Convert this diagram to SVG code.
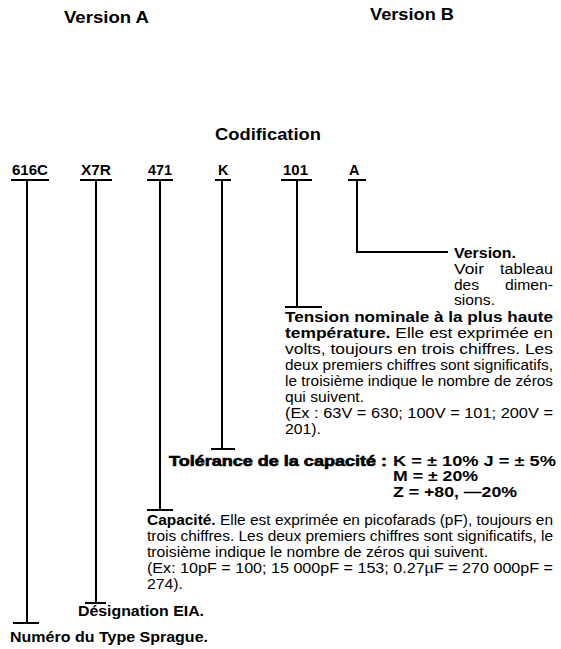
<svg xmlns="http://www.w3.org/2000/svg" width="561" height="649" viewBox="0 0 561 649">
<style>
text{font-family:"Liberation Sans",Arial,sans-serif;fill:#000}
.h{font-size:17px;font-weight:bold}
.c{font-size:14.5px;font-weight:bold}
.t{font-size:14px}
.b{font-weight:bold}
.lb{font-size:15px;font-weight:bold}
.tol{font-size:14px;font-weight:bold;stroke:#000;stroke-width:0.6}
.k{font-size:14px;font-weight:bold}
line,polyline{stroke:#000;stroke-width:2;fill:none}
</style>
<rect width="561" height="649" fill="#fff"/>
<g id="headers">
<text class="h" x="64" y="23" textLength="85" lengthAdjust="spacingAndGlyphs">Version A</text>
<text class="h" x="370" y="20" textLength="84" lengthAdjust="spacingAndGlyphs">Version B</text>
<text class="h" x="215" y="140" textLength="106" lengthAdjust="spacingAndGlyphs">Codification</text>
</g>
<g id="code-616C"><text class="c" x="12" y="175" textLength="36" lengthAdjust="spacingAndGlyphs">616C</text><line x1="11" y1="180" x2="49" y2="180"/></g>
<g id="code-X7R"><text class="c" x="81" y="175" textLength="30" lengthAdjust="spacingAndGlyphs">X7R</text><line x1="80" y1="180" x2="112" y2="180"/></g>
<g id="code-471"><text class="c" x="148" y="175" textLength="24" lengthAdjust="spacingAndGlyphs">471</text><line x1="147" y1="180" x2="173" y2="180"/></g>
<g id="code-K"><text class="c" x="218" y="175">K</text><line x1="215" y1="180" x2="231" y2="180"/></g>
<g id="code-101"><text class="c" x="283" y="175" textLength="25" lengthAdjust="spacingAndGlyphs">101</text><line x1="281" y1="180" x2="312" y2="180"/></g>
<g id="code-A"><text class="c" x="349" y="175">A</text><line x1="348" y1="180" x2="366" y2="180"/></g>
<g id="connectors">
<line x1="27" y1="180" x2="27" y2="623"/><line x1="13" y1="623" x2="39" y2="623"/>
<line x1="96" y1="180" x2="96" y2="603"/><line x1="85" y1="603" x2="106" y2="603"/>
<line x1="160" y1="180" x2="160" y2="510"/><line x1="147" y1="510" x2="173" y2="510"/>
<line x1="222" y1="180" x2="222" y2="449"/><line x1="211" y1="449" x2="235" y2="449"/>
<line x1="297" y1="180" x2="297" y2="307"/><line x1="285" y1="307" x2="322" y2="307"/>
<polyline points="357,180 357,252 448,252"/>
</g>
<g id="desc-version">
<text class="t b" x="454" y="258" textLength="62" lengthAdjust="spacingAndGlyphs">Version.</text>
<text class="t" x="454" y="274" textLength="30" lengthAdjust="spacingAndGlyphs">Voir</text>
<text class="t" x="500" y="274" textLength="53" lengthAdjust="spacingAndGlyphs">tableau</text>
<text class="t" x="454" y="290" textLength="25" lengthAdjust="spacingAndGlyphs">des</text>
<text class="t" x="505" y="290" textLength="48" lengthAdjust="spacingAndGlyphs">dimen-</text>
<text class="t" x="454" y="305" textLength="41" lengthAdjust="spacingAndGlyphs">sions.</text>
</g>
<g id="desc-tension">
<text class="t b" x="285" y="322" textLength="268" lengthAdjust="spacingAndGlyphs">Tension nominale à la plus haute</text>
<text class="t" x="285" y="338" textLength="268" lengthAdjust="spacingAndGlyphs"><tspan class="b">température.</tspan> Elle est exprimée en</text>
<text class="t" x="285" y="354" textLength="268" lengthAdjust="spacingAndGlyphs">volts, toujours en trois chiffres. Les</text>
<text class="t" x="285" y="370" textLength="268" lengthAdjust="spacingAndGlyphs">deux premiers chiffres sont significatifs,</text>
<text class="t" x="285" y="386" textLength="268" lengthAdjust="spacingAndGlyphs">le troisième indique le nombre de zéros</text>
<text class="t" x="285" y="402" textLength="79" lengthAdjust="spacingAndGlyphs">qui suivent.</text>
<text class="t" x="285" y="418" textLength="268" lengthAdjust="spacingAndGlyphs">(Ex : 63V = 630; 100V = 101; 200V =</text>
<text class="t" x="285" y="434" textLength="36" lengthAdjust="spacingAndGlyphs">201).</text>
</g>
<g id="desc-tolerance">
<text class="tol" x="169" y="466" textLength="218" lengthAdjust="spacingAndGlyphs">Tolérance de la capacité :</text>
<text class="k" x="393" y="466" textLength="163" lengthAdjust="spacingAndGlyphs">K = ± 10% J = ± 5%</text>
<text class="k" x="393" y="481" textLength="85" lengthAdjust="spacingAndGlyphs">M = ± 20%</text>
<text class="k" x="393" y="497" textLength="124" lengthAdjust="spacingAndGlyphs">Z = +80, —20%</text>
</g>
<g id="desc-capacite">
<text class="t" x="147" y="525" textLength="406" lengthAdjust="spacingAndGlyphs"><tspan class="b">Capacité.</tspan> Elle est exprimée en picofarads (pF), toujours en</text>
<text class="t" x="147" y="541" textLength="406" lengthAdjust="spacingAndGlyphs">trois chiffres. Les deux premiers chiffres sont significatifs, le</text>
<text class="t" x="147" y="557" textLength="341" lengthAdjust="spacingAndGlyphs">troisième indique le nombre de zéros qui suivent.</text>
<text class="t" x="147" y="573" textLength="406" lengthAdjust="spacingAndGlyphs">(Ex: 10pF = 100; 15 000pF = 153; 0.27µF = 270 000pF =</text>
<text class="t" x="147" y="589" textLength="36" lengthAdjust="spacingAndGlyphs">274).</text>
</g>
<g id="desc-eia"><text class="lb" x="78" y="616" textLength="126" lengthAdjust="spacingAndGlyphs">Désignation EIA.</text></g>
<g id="desc-sprague"><text class="lb" x="10" y="642" textLength="198" lengthAdjust="spacingAndGlyphs">Numéro du Type Sprague.</text></g>
</svg>
